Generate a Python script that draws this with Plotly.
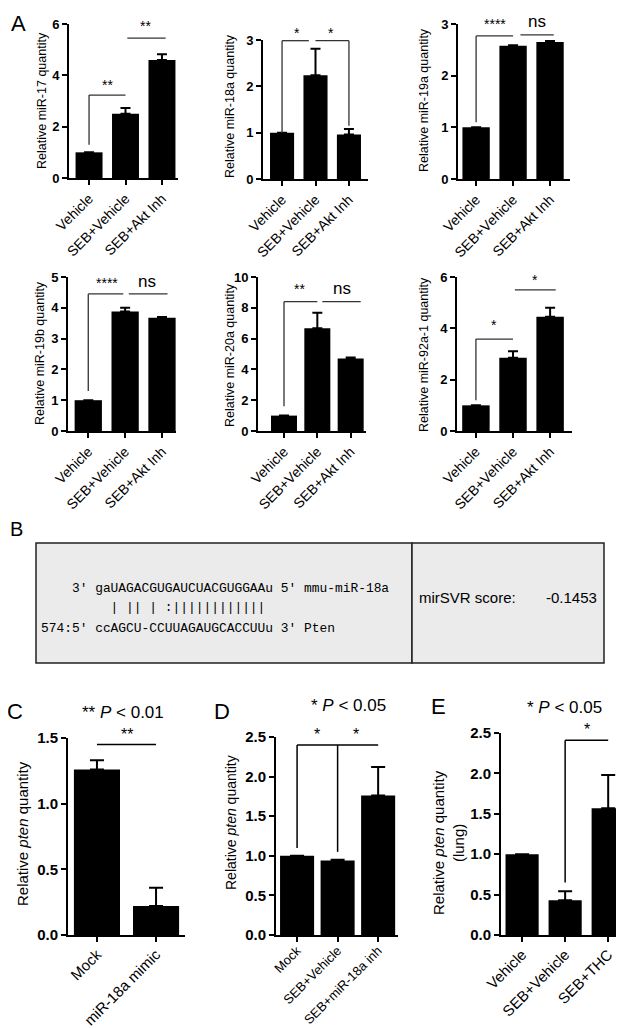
import plotly.graph_objects as go

W, H = 624, 1029

# ---------------- data ----------------
a_categories = ["Vehicle", "SEB+Vehicle", "SEB+Akt Inh"]

mir17_values = [1.0, 2.5, 4.6]
mir17_errors = [0, 0.23, 0.22]
mir17_ticks = [0, 2, 4, 6]

mir18a_values = [1.0, 2.24, 0.96]
mir18a_errors = [0, 0.57, 0.12]
mir18a_ticks = [0, 1, 2, 3]

mir19a_values = [1.0, 2.58, 2.65]
mir19a_errors = [0, 0.01, 0.02]
mir19a_ticks = [0, 1, 2, 3]

mir19b_values = [1.0, 3.88, 3.68]
mir19b_errors = [0, 0.12, 0.02]
mir19b_ticks = [0, 1, 2, 3, 4, 5]

mir20a_values = [1.0, 6.68, 4.7]
mir20a_errors = [0, 1.0, 0.08]
mir20a_ticks = [0, 2, 4, 6, 8, 10]

mir92a1_values = [1.0, 2.85, 4.45]
mir92a1_errors = [0, 0.26, 0.35]
mir92a1_ticks = [0, 2, 4, 6]

c_categories = ["Mock", "miR-18a mimic"]
c_values = [1.26, 0.22]
c_errors = [0.07, 0.14]
c_ticks = [0.0, 0.5, 1.0, 1.5]

d_categories = ["Mock", "SEB+Vehicle", "SEB+miR-18a inh"]
d_values = [1.0, 0.94, 1.76]
d_errors = [0, 0.01, 0.36]
d_ticks = [0.0, 0.5, 1.0, 1.5, 2.0, 2.5]

e_categories = ["Vehicle", "SEB+Vehicle", "SEB+THC"]
e_values = [1.0, 0.43, 1.57]
e_errors = [0, 0.11, 0.41]
e_ticks = [0.0, 0.5, 1.0, 1.5, 2.0, 2.5]

mirna_seq = "gaUAGACGUGAUCUACGUGGAAu"
target_seq = "ccAGCU-CCUUAGAUGCACCUUu"
pairing = "  | || | :||||||||||||"
mirsvr_score = "-0.1453"

FONT = "Arial, Liberation Sans, sans-serif"
NARROW = "Arial Narrow, Liberation Sans Narrow, Liberation Sans, sans-serif"

fig = go.Figure()
layout = dict(
    width=W, height=H, autosize=False,
    margin=dict(l=0, r=0, t=0, b=0, pad=0, autoexpand=False),
    paper_bgcolor="white", plot_bgcolor="white", showlegend=False,
    font=dict(family=FONT, color="black"),
)
shapes = []
annotations = []


def px_x(a, b):
    return [a / W, b / W]


def px_y(top, bottom):
    return [1 - bottom / H, 1 - top / H]


def add_panel(n, cats, vals, errs, yticks, xdom, ydom, xrange, bw,
              tickfmt, xfs, yfs, lw, cap, standoff=0):
    sfx = "" if n == 1 else str(n)
    fig.add_trace(go.Bar(
        x=list(range(len(cats))), y=vals, width=bw,
        marker=dict(color="black", line=dict(width=0)),
        error_y=dict(type="data", array=errs, arrayminus=[0] * len(errs),
                     symmetric=False, color="black", thickness=2,
                     width=cap),
        xaxis="x" + sfx, yaxis="y" + sfx, cliponaxis=False,
    ))
    common = dict(showline=True, linecolor="black", linewidth=lw,
                  ticks="outside", ticklen=5, tickwidth=lw, tickcolor="black",
                  showgrid=False, zeroline=False, fixedrange=True,
                  automargin=False)
    layout["xaxis" + sfx] = dict(
        domain=px_x(*xdom), range=list(xrange), anchor="y" + sfx,
        tickvals=list(range(len(cats))), ticktext=cats, tickangle=-45,
        ticklabelstandoff=standoff,
        tickfont=dict(size=xfs, family=FONT, color="black"), **common)
    layout["yaxis" + sfx] = dict(
        domain=px_y(*ydom), range=[0, max(yticks)], anchor="x" + sfx,
        tickvals=yticks, ticktext=[format(t, tickfmt) for t in yticks],
        tickfont=dict(size=yfs, family=FONT, color="black", weight="bold"),
        **common)


def seg(n, x0, y0, x1, y1, color="#333333", width=1.3):
    sfx = "" if n == 1 else str(n)
    shapes.append(dict(type="line", xref="x" + sfx, yref="y" + sfx,
                       x0=x0, y0=y0, x1=x1, y1=y1,
                       line=dict(color=color, width=width)))


def mark(n, x, y, text, size=14, yshift=0):
    sfx = "" if n == 1 else str(n)
    annotations.append(dict(xref="x" + sfx, yref="y" + sfx, x=x, y=y,
                            text=text, showarrow=False, yanchor="bottom",
                            yshift=yshift,
                            font=dict(size=size, family=FONT, color="black")))


def paper_text(x, y, text, size, angle=0, xanchor="center", family=FONT):
    annotations.append(dict(xref="paper", yref="paper", x=x / W, y=1 - y / H,
                            text=text, showarrow=False, textangle=angle,
                            xanchor=xanchor, yanchor="middle",
                            font=dict(size=size, family=family, color="black")))


# ---------------- Panel A ----------------
add_panel(1, a_categories, mir17_values, mir17_errors, mir17_ticks,
          (61, 170), (16, 170), (-0.55, 2.44), 0.74, "d", 14, 13, 2, 5)
add_panel(2, a_categories, mir18a_values, mir18a_errors, mir18a_ticks,
          (255, 360), (32, 171), (-0.57, 2.57), 0.72, "d", 14, 13, 2, 5)
add_panel(3, a_categories, mir19a_values, mir19a_errors, mir19a_ticks,
          (450, 562), (16, 171), (-0.49, 2.54), 0.74, "d", 14, 13, 2, 5)
add_panel(4, a_categories, mir19b_values, mir19b_errors, mir19b_ticks,
          (60, 168), (269, 423), (-0.55, 2.38), 0.74, "d", 14, 13, 2, 5)
add_panel(5, a_categories, mir20a_values, mir20a_errors, mir20a_ticks,
          (250, 358), (269, 423), (-0.78, 2.46), 0.78, "d", 14, 13, 2, 5)
add_panel(6, a_categories, mir92a1_values, mir92a1_errors, mir92a1_ticks,
          (449, 564), (269, 423), (-0.51, 2.59), 0.74, "d", 14, 13, 2, 5)

# significance brackets, panel A
seg(1, 0, 1.3, 0, 3.23); seg(1, 0, 3.23, 1, 3.23); mark(1, 0.5, 3.23, "**")
seg(1, 1.05, 5.45, 2.1, 5.45); mark(1, 1.55, 5.45, "**", yshift=2)

seg(2, 0, 1.0, 0, 2.985); seg(2, 0, 2.985, 0.8, 2.985)
seg(2, 1.0, 2.985, 2.0, 2.985); seg(2, 2.0, 2.985, 2.0, 1.15)
mark(2, 0.45, 2.985, "*", yshift=-2); mark(2, 1.45, 2.985, "*", yshift=-2)

seg(3, 0, 1.1, 0, 2.77); seg(3, 0, 2.77, 1.0, 2.77); mark(3, 0.5, 2.77, "****", yshift=2)
seg(3, 1.2, 2.79, 2.1, 2.79); mark(3, 1.65, 2.79, "ns", size=17, yshift=2)

seg(4, 0, 1.3, 0, 4.45); seg(4, 0, 4.45, 0.95, 4.45); mark(4, 0.5, 4.45, "****", yshift=1)
seg(4, 1.1, 4.45, 2.15, 4.45); mark(4, 1.6, 4.45, "ns", size=17, yshift=1)

seg(5, 0, 1.6, 0, 8.4); seg(5, 0, 8.4, 1.0, 8.4); mark(5, 0.45, 8.4, "**", yshift=3)
seg(5, 1.15, 8.4, 2.3, 8.4); mark(5, 1.75, 8.4, "ns", size=17, yshift=2)

seg(6, 0, 1.2, 0, 3.58); seg(6, 0, 3.58, 1.0, 3.58); mark(6, 0.5, 3.58, "*", yshift=4)
seg(6, 1.05, 5.5, 2.15, 5.5); mark(6, 1.6, 5.5, "*", yshift=0)

# y titles, panel A
paper_text(34, 93, "Relative miR-17 quantity", 12.5, -90)
paper_text(222, 98, "Relative miR-18a quantity", 12.5, -90)
paper_text(416, 92, "Relative miR-19a quantity", 12.5, -90)
paper_text(32, 345, "Relative miR-19b quantity", 12.5, -90)
paper_text(222, 347, "Relative miR-20a quantity", 12.5, -90)
paper_text(416, 347, "Relative miR-92a-1 quantity", 12.5, -90)

# ---------------- Panel B ----------------
NB = "\u00a0"
shapes.append(dict(type="rect", xref="paper", yref="paper",
                   x0=28 / W, x1=404 / W, y0=1 - 655 / H, y1=1 - 535 / H,
                   fillcolor="#ebebeb", line=dict(color="#222222", width=1.5),
                   layer="below"))
shapes.append(dict(type="rect", xref="paper", yref="paper",
                   x0=404 / W, x1=596 / W, y0=1 - 655 / H, y1=1 - 535 / H,
                   fillcolor="#ebebeb", line=dict(color="#222222", width=1.5),
                   layer="below"))
MONO = "Liberation Mono, Courier New, monospace"
line1 = "    3' " + mirna_seq + " 5' mmu-miR-18a"
line2 = "       " + pairing
line3 = "574:5' " + target_seq + " 3' Pten"
for txt, yy in ((line1, 580), (line2, 599), (line3, 620)):
    paper_text(31, yy, txt.replace(" ", NB), 12.9, xanchor="left", family=MONO)
paper_text(409, 589, "mirSVR score:", 15, xanchor="left", family=NARROW)
paper_text(591, 589, mirsvr_score, 15, xanchor="right", family=NARROW)

# ---------------- Panels C, D, E ----------------
add_panel(7, c_categories, c_values, c_errors, c_ticks,
          (60, 177), (730, 927), (-0.49, 1.49), 0.78, ".1f", 15, 15, 2, 7, -2)
add_panel(8, d_categories, d_values, d_errors, d_ticks,
          (268, 390), (729, 927), (-0.52, 2.49), 0.84, ".1f", 13, 15, 2, 7, -4)
add_panel(9, e_categories, e_values, e_errors, e_ticks,
          (493, 623), (725, 927), (-0.49, 2.53), 0.77, ".1f", 15, 15, 2, 7, -2)

seg(7, 0, 1.45, 1, 1.45, color="black", width=1.5)
mark(7, 0.5, 1.45, "**", size=16)
seg(8, 0, 1.1, 0, 2.4, color="black", width=1.5)
seg(8, 1, 1.05, 1, 2.4, color="black", width=1.5)
seg(8, 0, 2.4, 2, 2.4, color="black", width=1.5)
mark(8, 0.5, 2.4, "*", size=16); mark(8, 1.45, 2.4, "*", size=16)
seg(9, 1, 0.65, 1, 2.41, color="black", width=1.5)
seg(9, 1, 2.41, 2, 2.41, color="black", width=1.5)
mark(9, 1.5, 2.41, "*", size=16)

paper_text(14, 826, "Relative <i>pten</i> quantity", 15, -90)
paper_text(223, 815, "Relative <i>pten</i> quantity", 14, -90)
paper_text(440, 835, "Relative <i>pten</i> quantity<br>(lung)", 15, -90)

paper_text(115, 704, "** <i>P</i> &lt; 0.01", 17)
paper_text(341, 697, "* <i>P</i> &lt; 0.05", 17)
paper_text(556, 699, "* <i>P</i> &lt; 0.05", 17)

# panel letters
paper_text(10, 16, "A", 22)
paper_text(8, 521, "B", 20)
paper_text(7, 703, "C", 22)
paper_text(214, 703, "D", 22)
paper_text(430, 698, "E", 22)

layout["shapes"] = shapes
layout["annotations"] = annotations
fig.update_layout(**layout)
fig.write_html("out.html")
